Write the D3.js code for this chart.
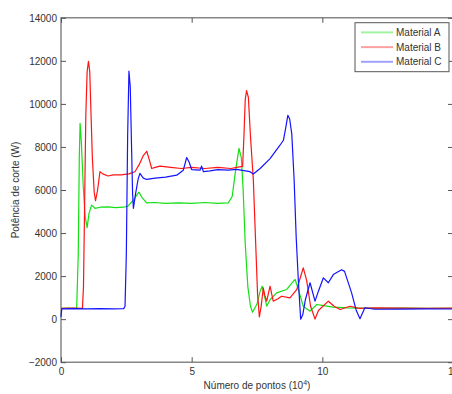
<!DOCTYPE html>
<html>
<head>
<meta charset="utf-8">
<script src="https://cdn.jsdelivr.net/npm/d3@7"></script>
<style>
  body { margin: 0; background: #fff; }
  svg text { font-family: "Liberation Sans", Arial, sans-serif; }
</style>
</head>
<body>
<div id="chart"></div>
<script>
const width = 452;
const height = 394;
const margin = { top: 17.8, right: -1, bottom: 31.8, left: 61 };

// x in units of 10^4 points, y in W
const seriesNames = ["Material A", "Material B", "Material C"];
const seriesColors = ["#14e014", "#ff1414", "#1414ff"];

const materialA = [
  [0, 500], [0.3, 510], [0.55, 500], [0.6, 520], [0.66, 3000], [0.7, 7500], [0.73, 9100],
  [0.78, 8200], [0.85, 6200], [0.92, 4800], [1.0, 4250], [1.07, 4900], [1.17, 5300],
  [1.3, 5150], [1.5, 5200], [1.8, 5220], [2.1, 5180], [2.4, 5200], [2.56, 5250],
  [2.75, 5500], [2.98, 5900], [3.1, 5650], [3.28, 5400], [3.6, 5420], [4.0, 5380],
  [4.5, 5400], [5.0, 5380], [5.5, 5420], [6.0, 5380], [6.4, 5400], [6.55, 5700],
  [6.68, 6900], [6.81, 7930], [6.9, 7500], [6.97, 6000], [7.05, 3500], [7.15, 1500],
  [7.25, 600], [7.33, 320], [7.5, 700], [7.62, 1300], [7.7, 1530], [7.8, 1000],
  [7.87, 600], [8.0, 900], [8.25, 1220], [8.63, 1375], [8.89, 1760], [8.96, 1840],
  [9.1, 1300], [9.27, 600], [9.53, 370], [9.79, 680], [10.0, 640], [10.4, 560],
  [11, 520], [12, 500], [13, 510], [14, 500], [15, 500]
];

const materialB = [
  [0, 500], [0.5, 510], [0.82, 500], [0.86, 1500], [0.9, 5000], [0.95, 9500], [1.0, 11500],
  [1.05, 11980], [1.1, 11500], [1.15, 9500], [1.2, 7500], [1.27, 5900], [1.32, 5500],
  [1.4, 6000], [1.49, 6850], [1.6, 6750], [1.8, 6650], [2.0, 6700], [2.3, 6700],
  [2.6, 6750], [2.83, 6850], [3.0, 7200], [3.15, 7600], [3.28, 7800], [3.38, 7400],
  [3.47, 7000], [3.6, 7050], [3.79, 7110], [4.2, 7050], [4.6, 7000], [5.0, 7050],
  [5.5, 7000], [6.0, 7050], [6.5, 7000], [6.72, 7050], [6.95, 7100], [7.0, 8500],
  [7.05, 10200], [7.1, 10620], [7.17, 10300], [7.25, 8500], [7.36, 6460], [7.45, 3500],
  [7.52, 1200], [7.59, 100], [7.66, 600], [7.74, 1450], [7.8, 1100], [7.87, 835],
  [8.0, 1530], [8.12, 835], [8.3, 950], [8.44, 1065], [8.76, 990], [9.02, 1375],
  [9.15, 1900], [9.27, 2380], [9.4, 1800], [9.55, 600], [9.72, 0], [9.85, 400],
  [10.23, 835], [10.45, 600], [10.68, 450], [11.06, 600], [11.4, 500], [12, 520],
  [13, 510], [14, 500], [15, 510]
];

const materialC = [
  [0, 100], [0.03, 480], [0.5, 490], [1.0, 480], [1.5, 490], [2.0, 480], [2.4, 490],
  [2.45, 600], [2.5, 3000], [2.55, 8500], [2.6, 11520], [2.65, 10800], [2.7, 8000],
  [2.74, 5800], [2.77, 5150], [2.85, 5800], [2.95, 6500], [3.02, 6770], [3.15, 6550],
  [3.28, 6490], [3.6, 6550], [4.0, 6600], [4.43, 6690], [4.68, 6920], [4.81, 7510],
  [4.9, 7300], [5.0, 6950], [5.32, 6920], [5.38, 7110], [5.45, 6850], [5.7, 6890],
  [6.0, 6950], [6.4, 6920], [6.72, 6960], [7.0, 6900], [7.23, 6850], [7.36, 6740],
  [7.62, 7000], [8.0, 7460], [8.38, 8080], [8.51, 8310], [8.6, 8900], [8.68, 9470],
  [8.75, 9300], [8.83, 8620], [8.92, 6500], [9.0, 3800], [9.08, 1840], [9.17, 0],
  [9.25, 200], [9.35, 900], [9.53, 1690], [9.72, 835], [9.85, 1300], [10.04, 1920],
  [10.23, 1690], [10.42, 2070], [10.6, 2200], [10.74, 2300], [10.85, 2220], [11.12, 1220],
  [11.3, 400], [11.44, 20], [11.63, 530], [12, 460], [13, 470], [14, 480], [15, 470]
];

const xTicks = [0, 5, 10, 15];
const yTicks = [-2000, 0, 2000, 4000, 6000, 8000, 10000, 12000, 14000];

const svg = d3.select("#chart")
  .append("svg")
  .attr("width", width)
  .attr("height", height);

const x = d3.scaleLinear().domain([0, 15]).range([margin.left, width - margin.right]);
const y = d3.scaleLinear().domain([-2000, 14000]).range([height - margin.bottom, margin.top]);

// frame
svg.append("rect")
  .attr("x", x(0))
  .attr("y", y(14000))
  .attr("width", x(15) - x(0))
  .attr("height", y(-2000) - y(14000))
  .attr("fill", "none")
  .attr("stroke", "#6a6a6a")
  .attr("stroke-width", 1.2);

// axes with inward ticks
function styleAxis(g) {
  g.select(".domain").remove();
  g.selectAll(".tick line").attr("stroke", "#555");
  g.selectAll(".tick text").attr("fill", "#333").style("font-size", "10px");
}

svg.append("g")
  .attr("transform", `translate(0,${y(-2000)})`)
  .call(d3.axisBottom(x).tickValues(xTicks).tickSize(-5).tickPadding(6).tickFormat(d3.format("d")))
  .call(styleAxis);

svg.append("g")
  .attr("transform", `translate(0,${y(14000)})`)
  .call(d3.axisTop(x).tickValues(xTicks).tickSize(-5).tickFormat(""))
  .call(styleAxis);

svg.append("g")
  .attr("transform", `translate(${x(0)},0)`)
  .call(d3.axisLeft(y).tickValues(yTicks).tickSize(-5).tickPadding(4).tickFormat(d3.format("d")))
  .call(styleAxis);

svg.append("g")
  .attr("transform", `translate(${x(15)},0)`)
  .call(d3.axisRight(y).tickValues(yTicks).tickSize(-5).tickFormat(""))
  .call(styleAxis);

// lines
const line = d3.line()
  .x(d => x(d[0]))
  .y(d => y(d[1]));

const allSeries = [materialA, materialB, materialC];

svg.append("g")
  .selectAll("path")
  .data(allSeries)
  .enter()
  .append("path")
  .attr("d", line)
  .attr("fill", "none")
  .attr("stroke", (d, i) => seriesColors[i])
  .attr("stroke-width", 1.2)
  .attr("stroke-linejoin", "round");

// axis labels
svg.append("text")
  .attr("x", (x(0) + x(15)) / 2)
  .attr("y", 389)
  .attr("text-anchor", "middle")
  .attr("fill", "#333")
  .style("font-size", "10px")
  .html('Número de pontos (10<tspan dy="-4" font-size="7px">4</tspan><tspan dy="4">)</tspan>');

svg.append("text")
  .attr("transform", `translate(19,${(y(14000) + y(-2000)) / 2}) rotate(-90)`)
  .attr("text-anchor", "middle")
  .attr("fill", "#333")
  .style("font-size", "10px")
  .text("Potência de corte (W)");

// legend
const legend = svg.append("g").attr("transform", "translate(355,22.7)");
legend.append("rect")
  .attr("width", 94)
  .attr("height", 49)
  .attr("fill", "#fff")
  .attr("stroke", "#555")
  .attr("stroke-width", 1);

const item = legend.selectAll("g.item")
  .data(seriesNames)
  .enter()
  .append("g")
  .attr("class", "item")
  .attr("transform", (d, i) => `translate(0,${9.7 + i * 14.7})`);

item.append("line")
  .attr("x1", 6)
  .attr("x2", 38)
  .attr("stroke", (d, i) => seriesColors[i])
  .attr("stroke-opacity", 0.4)
  .attr("stroke-width", 2);

item.append("text")
  .attr("x", 41)
  .attr("dy", "0.35em")
  .attr("fill", "#333")
  .style("font-size", "10px")
  .text(d => d);
</script>
</body>
</html>
